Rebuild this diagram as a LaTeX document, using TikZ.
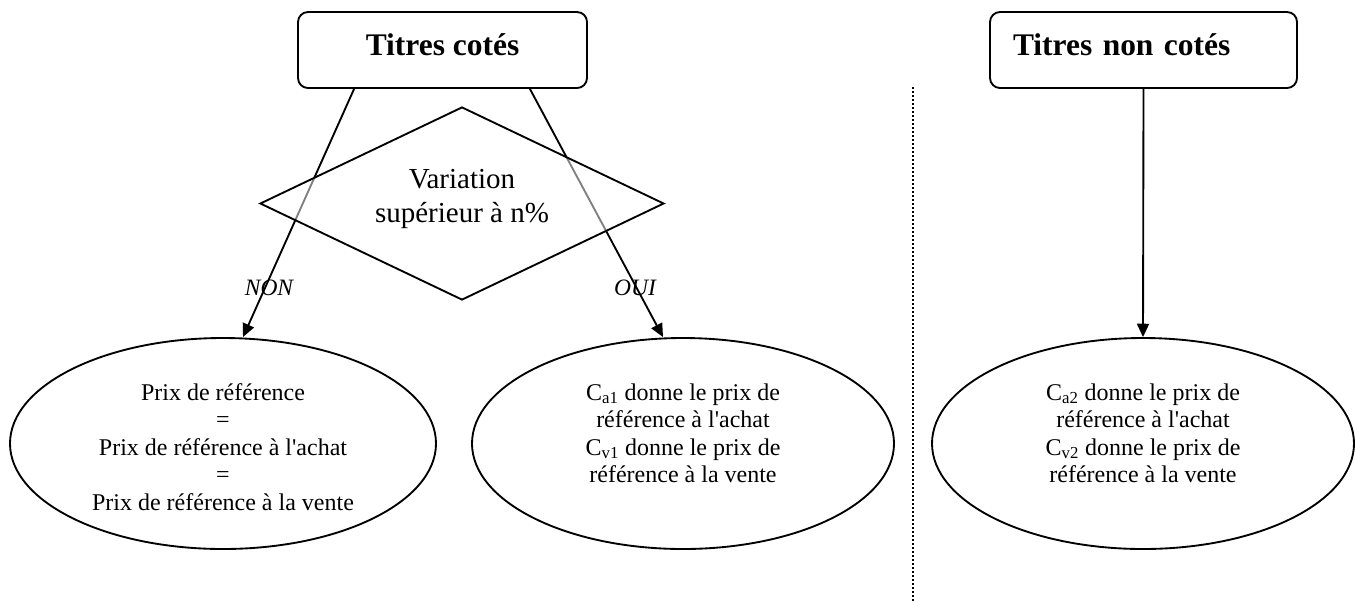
\documentclass[tikz,border=0pt]{standalone}
\usepackage{fontspec}
\setmainfont{Liberation Serif}
\usetikzlibrary{shapes.geometric,arrows.meta}
\begin{document}
\begin{tikzpicture}[x=0.75pt,y=-0.75pt,
  box/.style={draw,rounded corners=7.5pt,line width=1.4pt,minimum width=216.75pt,
    minimum height=57pt,inner sep=0pt,text height=15pt,text depth=7.5pt,
    font=\fontsize{23.6pt}{28pt}\selectfont\bfseries},
  ell/.style={draw,ellipse,line width=1.4pt,minimum height=158.25pt,inner sep=0pt},
  etext/.style={align=center,inner sep=0pt,font=\fontsize{18pt}{20.6pt}\selectfont},
  dtext/.style={align=center,inner sep=0pt,font=\fontsize{21.75pt}{25.5pt}\selectfont},
  lab/.style={inner sep=0pt,font=\fontsize{17.6pt}{20pt}\selectfont\itshape},
  arr/.style={line width=1.4pt,-{Triangle[length=10pt,width=9pt]}}]
\useasboundingbox (0,0) rectangle (1355,601);

\node[box] (b1) at (442.5,50) {Titres cotés};
\node[box,minimum width=230.25pt,text width=195.75pt,align=left,inner xsep=17.25pt] (b2) at (1143.5,50) {Titres non cotés};

\node[ell,minimum width=319.5pt] (e1) at (223,443.5) {};
\node[ell,minimum width=316.5pt] (e2) at (683,443.5) {};
\node[ell,minimum width=316.5pt] (e3) at (1143,443.5) {};

\node[etext,anchor=base] (t1) at (223,510) {Prix de référence\\=\\Prix de référence à l\textquotesingle achat\\=\\Prix de référence à la vente};
\node[etext,anchor=base] (t2) at (683,482.5) {C\textsubscript{a1} donne le prix de\\référence à l\textquotesingle achat\\C\textsubscript{v1} donne le prix de\\référence à la vente};
\node[etext,anchor=base] (t3) at (1143,482.5) {C\textsubscript{a2} donne le prix de\\référence à l\textquotesingle achat\\C\textsubscript{v2} donne le prix de\\référence à la vente};

\draw[arr] ([xshift=42.75pt]b1.south west) -- ([xshift=15pt]e1.north);
\draw[arr] ([xshift=-43.5pt]b1.south east) -- ([xshift=-15pt]e2.north);
\draw[arr] (b2.south) -- (e3.north);

\node[diamond,draw,line width=1.4pt,fill=white,fill opacity=0.5,text opacity=1,
  minimum width=303pt,minimum height=144.75pt,inner sep=0pt] (d) at (462,203.5) {};
\node[dtext,anchor=base] (dt) at (462,222) {Variation\\supérieur à n\%};

\node[lab,anchor=base] (non) at (269,295) {NON};
\node[lab,anchor=base] (oui) at (635,295) {OUI};

\coordinate (dtop) at (913,87);
\coordinate (dbot) at (913,601);
\draw[line width=1.5pt,dash pattern=on 1.5pt off 1.5pt] (dtop) -- (dbot);
\end{tikzpicture}
\end{document}
